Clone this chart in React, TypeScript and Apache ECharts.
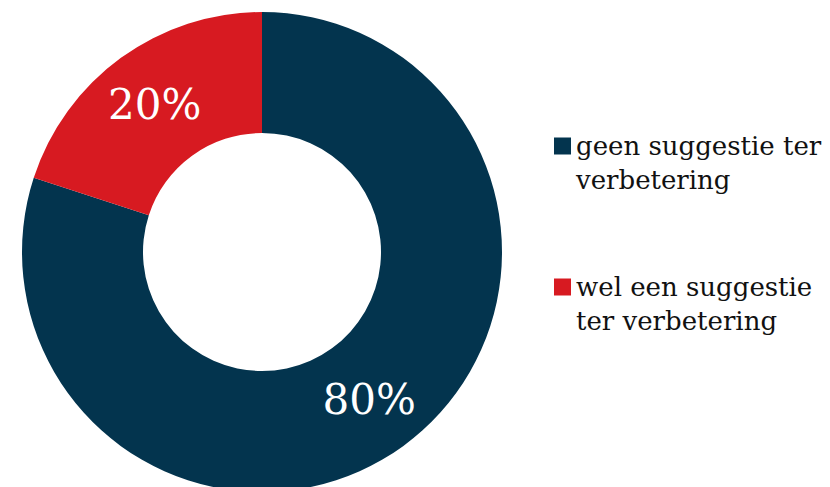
import React, { useEffect, useRef } from "react";
import * as echarts from "echarts";

const categories = ["geen suggestie ter verbetering", "wel een suggestie ter verbetering"];
const legendLines = [
  ["geen suggestie ter", "verbetering"],
  ["wel een suggestie", "ter verbetering"],
];
const values = [80, 20];
const colors = ["#03344e", "#d71a21"];

export default function App() {
  const ref = useRef<HTMLDivElement>(null);
  useEffect(() => {
    if (!ref.current) return;
    const chart = echarts.init(ref.current, null, { renderer: "svg" });
    chart.setOption({
      animation: false,
      backgroundColor: "#ffffff",
      legend: {
        orient: "vertical",
        left: 549,
        top: 90,
        itemWidth: 17,
        itemHeight: 17,
        itemGap: 39,
        icon: "rect",
        selectedMode: false,
        data: categories,
        formatter: (name: string) => {
          const i = categories.indexOf(name);
          return "\n" + legendLines[i].join("\n");
        },
        textStyle: {
          fontFamily: "DejaVu Serif",
          fontSize: 26,
          lineHeight: 34,
          color: "#111111",
        },
      },
      series: [
        {
          type: "pie",
          center: [262, 252],
          radius: [119, 240],
          startAngle: 90,
          clockwise: true,
          silent: true,
          label: {
            show: true,
            position: "inside",
            formatter: "{c}%",
            color: "#ffffff",
            fontFamily: "DejaVu Serif",
            fontSize: 42,
          },
          labelLine: { show: false },
          data: categories.map((name, i) => ({
            name,
            value: values[i],
            itemStyle: { color: colors[i] },
          })),
        },
      ],
    });
    return () => chart.dispose();
  }, []);
  return (
    <div
      ref={ref}
      style={{ position: "fixed", left: 0, top: 0, width: 830, height: 487 }}
    />
  );
}
